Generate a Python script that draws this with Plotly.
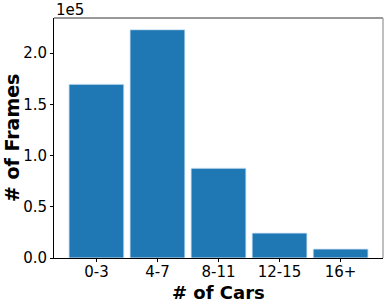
import plotly.graph_objects as go

categories = ["0-3", "4-7", "8-11", "12-15", "16+"]
frames = [169600, 222800, 87700, 24400, 8800]
ytick_vals = [0, 50000, 100000, 150000, 200000]
ytick_text = ["0.0", "0.5", "1.0", "1.5", "2.0"]

FONT = "DejaVu Sans"
fig = go.Figure(go.Bar(
    x=list(range(len(categories))), y=frames, width=0.9,
    marker=dict(color="#1f77b4", line=dict(color="rgba(220,235,250,0.9)", width=1)),
))
fig.update_layout(
    width=391, height=304,
    margin=dict(l=54, r=8, t=18, b=46),
    plot_bgcolor="white", paper_bgcolor="white",
    font=dict(family=FONT, size=15, color="black"),
    showlegend=False,
    xaxis=dict(range=[-0.695, 4.695], tickvals=list(range(len(categories))), ticktext=categories,
               showgrid=False, zeroline=False, showline=True, linecolor="black", linewidth=1,
               ticks="outside", ticklen=3, tickcolor="black", automargin=False,
               ticklabelstandoff=-3),
    yaxis=dict(range=[0, 234200], tickvals=ytick_vals, ticktext=ytick_text,
               showgrid=False, zeroline=False, showline=True, linecolor="black", linewidth=1,
               ticks="outside", ticklen=3, tickcolor="black", automargin=False),
    shapes=[
        dict(type="line", xref="paper", yref="paper", x0=0, x1=1, y0=1, y1=1,
             line=dict(color="#333", width=1)),
        dict(type="line", xref="paper", yref="paper", x0=1, x1=1, y0=0, y1=1,
             line=dict(color="#aaaaaa", width=1.5)),
    ],
    annotations=[
        dict(text="1e5", xref="paper", yref="paper", x=0, y=1, xanchor="left",
             yanchor="bottom", showarrow=False, font=dict(size=15), yshift=-3),
        dict(text="<b># of Cars</b>", xref="paper", yref="paper", x=0.5, y=0, xanchor="center",
             yanchor="middle", showarrow=False, font=dict(size=18), yshift=-34),
        dict(text="<b># of Frames</b>", xref="paper", yref="paper", x=0, y=0.5, xanchor="center",
             yanchor="middle", showarrow=False, font=dict(size=19), textangle=-90, xshift=-42),
    ],
)
fig.write_html("out.html", config={"displayModeBar": False},
               post_script="document.body.style.margin='0';")
